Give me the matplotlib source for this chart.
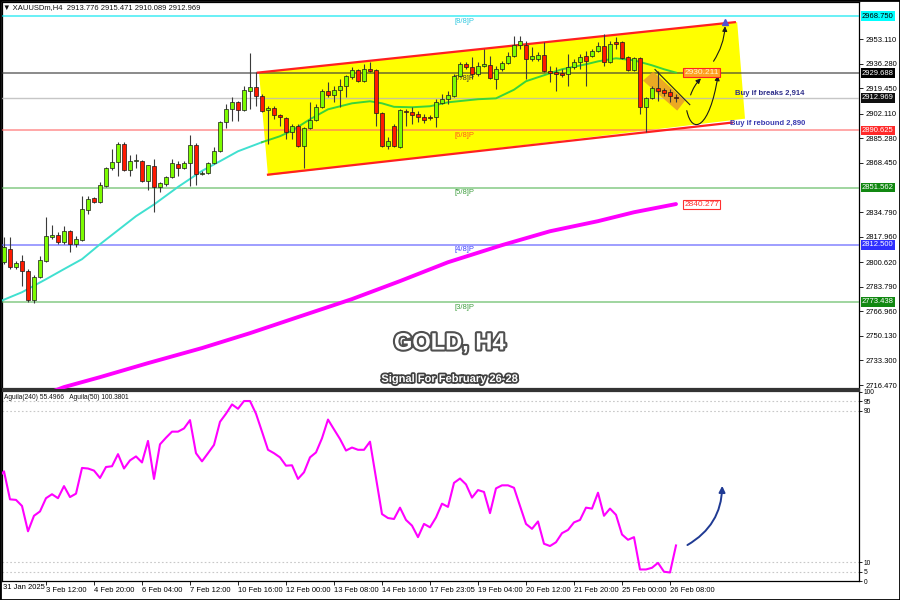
import matplotlib
matplotlib.use('Agg')
import matplotlib.pyplot as plt
import matplotlib.patheffects as pe
import matplotlib.transforms as mtransforms
from matplotlib.patches import Polygon, FancyArrowPatch, Rectangle
from matplotlib.path import Path
import numpy as np

plt.rcParams['font.family'] = ['Liberation Sans', 'DejaVu Sans']

# ---------------- data (H4 candles, bar index 0..112) ----------------
opens = [2800.5, 2809.4, 2797.1, 2801.2, 2794.4, 2774.6, 2790.3, 2801.2, 2817.6, 2819.0,
         2814.2, 2821.7, 2812.8, 2815.6, 2836.1, 2844.3, 2841.6, 2852.5, 2864.8, 2868.9,
         2881.2, 2863.4, 2869.6, 2869.6, 2855.9, 2866.2, 2851.8, 2853.9, 2858.6, 2867.5,
         2864.8, 2868.2, 2880.5, 2860.7, 2861.4, 2868.2, 2876.4, 2896.2, 2905.1, 2909.9,
         2904.4, 2917.4, 2920.2, 2914.0, 2904.4, 2905.8, 2901.0, 2899.0, 2889.4, 2893.5,
         2879.8, 2892.1, 2897.6, 2906.5, 2917.4, 2914.7, 2918.1, 2920.8, 2927.0, 2931.8,
         2924.3, 2932.5, 2931.8, 2902.4, 2879.8, 2893.5, 2879.1, 2903.7, 2903.1, 2901.7,
         2899.6, 2899.6, 2899.6, 2909.2, 2912.0, 2914.0, 2927.7, 2935.9, 2933.8, 2929.0,
         2934.5, 2935.2, 2925.6, 2932.5, 2936.6, 2941.3, 2948.9, 2948.9, 2939.3, 2939.3,
         2942.0, 2931.1, 2930.4, 2929.7, 2929.0, 2933.8, 2937.2, 2941.3, 2941.3, 2944.8,
         2948.2, 2937.2, 2950.9, 2950.9, 2940.7, 2931.8, 2940.0, 2906.5, 2912.6, 2919.5,
         2918.1, 2916.7, 2913.776]
highs = [2817.6, 2817.6, 2801.2, 2805.3, 2795.8, 2791.7, 2804.6, 2831.3, 2825.8, 2821.0,
         2825.2, 2822.4, 2818.3, 2845.7, 2845.7, 2845.0, 2855.2, 2865.5, 2877.8, 2882.6,
         2882.6, 2873.7, 2874.4, 2870.3, 2866.8, 2870.9, 2855.2, 2859.3, 2870.9, 2869.6,
         2869.6, 2887.3, 2881.9, 2862.7, 2868.9, 2879.1, 2896.9, 2908.5, 2913.3, 2910.6,
         2920.8, 2943.4, 2930.4, 2915.4, 2907.2, 2907.2, 2901.7, 2899.6, 2894.9, 2894.9,
         2892.8, 2909.9, 2908.5, 2918.8, 2923.6, 2920.8, 2925.6, 2928.4, 2933.8, 2932.5,
         2935.9, 2937.2, 2932.5, 2903.1, 2886.0, 2894.9, 2905.1, 2905.1, 2906.5, 2903.7,
         2901.7, 2901.0, 2912.0, 2915.4, 2917.4, 2929.0, 2937.2, 2937.2, 2940.7, 2937.2,
         2946.1, 2941.3, 2934.5, 2937.9, 2944.1, 2955.0, 2955.0, 2951.6, 2947.5, 2944.1,
         2950.9, 2934.5, 2933.8, 2932.5, 2942.7, 2939.3, 2942.7, 2944.8, 2946.1, 2950.9,
         2956.4, 2951.6, 2954.3, 2951.6, 2941.3, 2940.7, 2940.7, 2913.3, 2920.8, 2931.1,
         2919.5, 2918.8, 2915.471]
lows = [2799.2, 2795.8, 2795.8, 2784.1, 2773.2, 2772.5, 2789.6, 2800.5, 2816.3, 2812.8,
        2812.8, 2807.4, 2810.8, 2814.9, 2833.4, 2840.9, 2840.9, 2851.8, 2863.4, 2859.3,
        2862.7, 2859.3, 2864.8, 2855.2, 2849.8, 2834.7, 2848.4, 2852.5, 2858.0, 2859.3,
        2864.1, 2852.5, 2853.2, 2860.0, 2860.7, 2867.5, 2875.7, 2892.1, 2896.9, 2896.9,
        2903.7, 2905.1, 2907.2, 2903.1, 2881.2, 2898.3, 2893.5, 2884.6, 2884.6, 2879.1,
        2864.8, 2891.4, 2896.9, 2905.8, 2913.3, 2909.9, 2906.5, 2913.3, 2925.6, 2923.6,
        2923.6, 2930.4, 2893.5, 2879.1, 2877.8, 2879.1, 2878.5, 2893.5, 2894.9, 2896.2,
        2895.5, 2897.6, 2892.8, 2908.5, 2908.5, 2913.3, 2927.0, 2932.5, 2925.6, 2927.7,
        2933.8, 2925.6, 2918.8, 2931.1, 2935.9, 2940.7, 2946.1, 2925.6, 2937.9, 2937.9,
        2930.4, 2923.6, 2917.4, 2927.0, 2920.8, 2932.5, 2932.5, 2920.8, 2940.7, 2944.1,
        2934.5, 2936.6, 2946.1, 2939.3, 2931.1, 2931.1, 2901.7, 2889.4, 2912.0, 2910.6,
        2914.0, 2909.9, 2910.089]
closes = [2810.8, 2797.1, 2799.9, 2794.4, 2774.6, 2790.3, 2801.9, 2818.3, 2819.0, 2814.2,
          2821.7, 2812.8, 2816.3, 2836.8, 2843.6, 2841.6, 2853.2, 2864.8, 2868.9, 2881.2,
          2863.4, 2869.6, 2870.3, 2855.9, 2866.8, 2851.8, 2854.5, 2858.6, 2868.2, 2864.8,
          2868.2, 2880.5, 2860.7, 2861.4, 2868.2, 2876.4, 2896.2, 2905.1, 2909.9, 2904.4,
          2918.1, 2920.2, 2914.0, 2903.7, 2905.8, 2901.0, 2899.6, 2889.4, 2893.5, 2879.8,
          2892.1, 2897.6, 2906.5, 2917.4, 2914.7, 2918.1, 2920.8, 2927.7, 2931.8, 2924.3,
          2932.5, 2931.1, 2902.4, 2879.8, 2883.2, 2879.8, 2904.4, 2903.1, 2901.0, 2899.6,
          2897.6, 2899.0, 2909.9, 2912.0, 2914.7, 2927.7, 2935.9, 2933.8, 2929.0, 2934.5,
          2935.9, 2926.3, 2932.5, 2936.6, 2941.3, 2948.9, 2951.6, 2939.3, 2941.3, 2942.0,
          2931.1, 2929.7, 2929.0, 2928.4, 2933.8, 2937.2, 2940.7, 2937.9, 2944.8, 2948.2,
          2937.2, 2949.5, 2949.5, 2940.0, 2931.8, 2940.0, 2906.5, 2912.6, 2919.5, 2917.4,
          2916.1, 2914.0, 2912.969]

# moving averages (bar index, value)
ma_fast_idx = [-1, 3, 7, 10, 13, 16, 19, 22, 25, 29, 33, 36, 39, 43, 46, 48, 51, 54, 58, 61,
               63, 65, 68, 71, 74, 79, 82, 85, 87, 90, 93, 97, 99, 102, 105, 108, 110, 112]
ma_fast = [2773.2, 2780.0, 2788.9, 2795.8, 2802.6, 2812.8, 2822.4, 2832.0, 2840.0, 2852.0,
           2863.0, 2869.6, 2876.4, 2882.6, 2886.7, 2890.5, 2898.3, 2905.1, 2909.2, 2910.6,
           2909.2, 2906.8, 2906.5, 2907.2, 2909.9, 2912.0, 2912.6, 2918.5, 2924.3, 2928.4,
           2932.5, 2935.9, 2937.9, 2940.0, 2938.6, 2935.2, 2932.5, 2930.2]
ma_slow_idx = [8, 10, 16, 24, 33, 41, 49, 58, 66, 74, 83, 91, 99, 105, 112]
ma_slow = [2712.0, 2715.1, 2721.9, 2731.5, 2741.8, 2752.0, 2763.0, 2775.3, 2787.6, 2800.5,
           2812.2, 2821.7, 2828.6, 2834.7, 2840.3]

# Murrey math levels
mm_levels = [2968.750, 2929.688, 2890.625, 2851.562, 2812.500, 2773.438]
mm_names = ['[8/8]P', '[7/8]P', '[6/8]P', '[5/8]P', '[4/8]P', '[3/8]P']
bid_price = 2912.969
ma_fast_label = 2930.211
ma_slow_label = 2840.277

# oscillator Aguila(240), bar index -1..112
osc_vals = [54.5, 58.0, 43.2, 42.9, 39.7, 26.3, 34.5, 36.8, 43.8, 45.9, 43.8,
            50.2, 44.4, 46.2, 59.8, 59.5, 58.4, 54.5, 60.3, 60.7, 67.1,
            59.5, 63.8, 65.9, 62.7, 74.1, 54.0, 72.3, 75.8, 79.0, 79.0,
            80.7, 85.1, 67.6, 63.3, 67.6, 72.0, 84.2, 88.5, 93.4, 91.1,
            95.2, 95.2, 88.5, 79.0, 69.4, 67.6, 65.4, 61.0, 61.2, 54.0,
            57.5, 65.4, 68.0, 75.5, 85.4, 80.2, 75.1, 69.0, 70.6, 69.4,
            69.4, 73.7, 54.5, 35.4, 33.3, 32.8, 38.8, 32.3, 29.3, 23.2,
            30.2, 28.4, 33.6, 40.9, 39.2, 51.9, 54.2, 51.1, 44.1, 48.1,
            47.1, 35.9, 49.0, 50.6, 50.6, 49.3, 39.7, 30.2, 27.6, 31.5,
            19.7, 18.5, 20.5, 25.3, 27.0, 31.0, 32.3, 38.8, 38.3, 46.7,
            34.5, 38.3, 35.0, 24.6, 21.8, 23.2, 6.1, 6.1, 7.0, 9.6,
            4.9, 4.5, 18.8]
osc_levels = [95, 90, 10, 5]

price_ticks = [2953.110, 2936.280, 2919.450, 2902.110, 2885.280, 2868.450, 2834.790,
               2817.960, 2800.620, 2783.790, 2766.960, 2750.130, 2733.300, 2716.470]
time_labels = ['31 Jan 2025', '3 Feb 12:00', '4 Feb 20:00', '6 Feb 04:00', '7 Feb 12:00',
               '10 Feb 16:00', '12 Feb 00:00', '13 Feb 08:00', '14 Feb 16:00', '17 Feb 23:05',
               '19 Feb 04:00', '20 Feb 12:00', '21 Feb 20:00', '25 Feb 00:00', '26 Feb 08:00']
time_label_idx = [-1, 7, 15, 23, 31, 39, 47, 55, 63, 71, 79, 87, 95, 103, 111]

# drawing objects (bar index, price)
channel_top = [(42.3, 2930.2), (121.8, 2964.7)]
channel_bot = [(44.0, 2860.4), (121.3, 2896.0)]
channel_fill = [(42.5, 2930.2), (122.2, 2964.7), (123.5, 2898.7), (44.0, 2859.7)]
flag_box = [(108.2, 2930.9), (113.5, 2911.0), (112.2, 2904.2), (106.5, 2924.7)]
flag_line = [(108.5, 2932.3), (114.3, 2908.3)]

# ---------------- figure ----------------
fig = plt.figure(figsize=(9, 6), dpi=100)
fig.patch.set_facecolor('white')
ax = fig.add_axes([2 / 900, 1 - 389 / 600, 857 / 900, 387 / 600])
axi = fig.add_axes([2 / 900, 19 / 600, 857 / 900, 190 / 600])

XMIN, XMAX = -0.333, 142.5
ax.set_xlim(XMIN, XMAX)
ax.set_ylim(2713.8, 2978.5)

# channel fill
ax.add_patch(Polygon(channel_fill, closed=True, facecolor='#ffff00', edgecolor='none', zorder=1))

# horizontal levels
mm_colors = ['#00e5f0', '#3a3a3a', '#ff6a6a', '#5cb85c', '#5a5aff', '#5cb85c']
mm_text = ['#30c8e0', '#3a3a3a', '#ff5a20', '#3f9f3f', '#4040ff', '#3f9f3f']
for lv, nm, lc, tc in zip(mm_levels, mm_names, mm_colors, mm_text):
    ax.axhline(lv, color=lc, lw=1.1, alpha=0.75, zorder=3)
    ax.text(76.8, lv - 1.2, nm, color=tc, fontsize=5.5, ha='center', va='top', zorder=4)
ax.axhline(bid_price, color='#b8b8b8', lw=1.0, alpha=0.8, zorder=3)

# slow MA
ax.plot(ma_slow_idx, ma_slow, color='#ff00ff', lw=2.8, solid_capstyle='round', zorder=4)
# fast MA (cyan outside channel, green inside)
split = ma_fast_idx.index(43)
ax.plot(ma_fast_idx[:split + 1], ma_fast[:split + 1], color='#40e0d0', lw=1.4, zorder=4)
ax.plot(ma_fast_idx[split:], ma_fast[split:], color='#3ad43a', lw=1.4, zorder=4)

# channel lines
ax.plot(*zip(*channel_top), color='#ff2020', lw=1.6, zorder=4)
ax.plot(*zip(*channel_bot), color='#ff2020', lw=1.6, zorder=4)

# flag
ax.add_patch(Polygon(flag_box, closed=True, facecolor='#e89a2a', edgecolor='none', alpha=0.85, zorder=4))
ax.plot(*zip(*flag_line), color='#222222', lw=0.8, zorder=7)

# candles
idx = np.arange(len(opens))
o = np.array(opens); h = np.array(highs); l = np.array(lows); c = np.array(closes)
up = c >= o
ax.vlines(idx, l, h, color='#3a3a3a', lw=0.8, zorder=5)
ax.bar(idx, np.abs(c - o), bottom=np.minimum(o, c), width=0.72,
       color=np.where(up, '#7cfc00', '#ff1a00'), edgecolor='#1a1a1a', linewidth=0.5, zorder=6)

# arrows
arrow_kw = dict(arrowstyle='-|>', mutation_scale=7, color='#1a1a1a', lw=0.8, zorder=8)
ax.add_patch(FancyArrowPatch((114.3, 2913.1), (116.5, 2927.5), connectionstyle='arc3,rad=-0.15', **arrow_kw))
ax.add_patch(FancyArrowPatch((118.0, 2936.4), (120.2, 2963.8), connectionstyle='arc3,rad=0.15', **arrow_kw))
u_path = Path([(113.8, 2904.2), (114.7, 2887.0), (117.6, 2892.0), (119.0, 2928.2)],
              [Path.MOVETO, Path.CURVE4, Path.CURVE4, Path.CURVE4])
ax.add_patch(FancyArrowPatch(path=u_path, **arrow_kw))
ax.plot([120.2], [2964.6], marker='^', color='#5050d0', ms=4, zorder=9)

# annotations
ax.text(121.8, 2916.0, 'Buy if breaks 2,914', fontsize=5.5, fontweight='bold', color='#2d2d8a',
        va='center', ha='left', zorder=9)
ax.text(121.0, 2895.3, 'Buy if rebound 2,890', fontsize=5.5, fontweight='bold', color='#3a3ab0',
        va='center', ha='left', zorder=9)
ax.text(113.4, ma_fast_label, '%.3f' % ma_fast_label, fontsize=6, color='#fff4d0', va='center', ha='left',
        zorder=9, bbox=dict(boxstyle='square,pad=0.12', facecolor='#ffa020', edgecolor='#ff2020', lw=0.8))
ax.text(113.4, ma_slow_label, '%.3f' % ma_slow_label, fontsize=6, color='#ff3030', va='center', ha='left',
        zorder=9, bbox=dict(boxstyle='square,pad=0.12', facecolor='white', edgecolor='#ff3030', lw=0.8))

# right price axis
ax.yaxis.tick_right()
ax.set_yticks(price_ticks)
ax.set_yticklabels(['%.3f' % t for t in price_ticks])
ax.tick_params(axis='y', direction='out', length=3, width=0.6, labelsize=5.5, pad=1.5)
ax.tick_params(axis='x', bottom=False, labelbottom=False)
ytr = ax.get_yaxis_transform()
box_specs = [(mm_levels[0], '#00ffff', 'black'), (mm_levels[1], 'black', 'white'),
             (bid_price, '#101010', 'white'), (mm_levels[2], '#ff2a2a', 'white'),
             (mm_levels[3], '#118811', 'white'), (mm_levels[4], '#2f2fff', 'white'),
             (mm_levels[5], '#118811', 'white')]
for val, fc, tc in box_specs:
    ax.text(1.0035, val, '%.3f' % val, transform=ytr, fontsize=5.5, color=tc, va='center', ha='left',
            clip_on=False, zorder=10,
            bbox=dict(boxstyle='square,pad=0.18', facecolor=fc, edgecolor='none'))
for s in ax.spines.values():
    s.set_color('black'); s.set_linewidth(0.9)
ax.spines['bottom'].set_linewidth(1.6)
ax.spines['bottom'].set_color('#333333')

# titles
fig.text(3 / 900, 1 - 8 / 600, '\u25bc XAUUSDm,H4  2913.776 2915.471 2910.089 2912.969',
         fontsize=5.5, va='center', ha='left', color='#111111')
fig.text(0.5, 1 - 343 / 600, 'GOLD, H4', fontsize=17, fontweight='bold', color='white',
         ha='center', va='center',
         path_effects=[pe.withStroke(linewidth=3, foreground='#505050')])
fig.text(0.5, 1 - 379 / 600, 'Signal For February 26-28', fontsize=8, fontweight='bold', color='white',
         ha='center', va='center',
         path_effects=[pe.withStroke(linewidth=2.5, foreground='#404040')])

# ---------------- oscillator panel ----------------
osc_idx = np.arange(-1, -1 + len(osc_vals))
axi.set_xlim(XMIN, XMAX)
axi.set_ylim(0, 100.5)
for lv in osc_levels:
    axi.axhline(lv, color='#c8c8c8', lw=0.8, ls=(0, (1.5, 2)), zorder=1)
axi.plot(osc_idx, osc_vals, color='#ff00ff', lw=1.5, zorder=3)
axi.add_patch(FancyArrowPatch((113.5, 18.3), (119.7, 51.8), connectionstyle='arc3,rad=0.3',
                              arrowstyle='-|>', mutation_scale=9, color='#1f3a93', lw=1.4, zorder=4))
axi.text(0.002, 0.985, 'Aguila(240) 55.4966   Aguila(50) 100.3801', transform=axi.transAxes,
         fontsize=4.8, va='top', ha='left', color='#111111')
axi.yaxis.tick_right()
axi.set_yticks([0, 5, 10, 90, 95, 100])
axi.set_yticklabels(['0', '5', '10', '90', '95', '100'])
axi.tick_params(axis='y', direction='out', length=2, width=0.6, labelsize=4.8, pad=1.5)
vis = [(p, t) for p, t in zip(time_label_idx, time_labels) if p >= XMIN]
axi.set_xticks([p for p, _ in vis])
axi.set_xticklabels([t for _, t in vis], ha='left')
axi.tick_params(axis='x', direction='out', length=3, width=0.6, labelsize=5.5, pad=1.5)
for p, t in zip(time_label_idx, time_labels):
    if p < XMIN:
        axi.text(0.001, -0.018, t, transform=axi.transAxes, fontsize=5.5, ha='left', va='top',
                 clip_on=False)
for s in axi.spines.values():
    s.set_color('black'); s.set_linewidth(0.9)
axi.spines['top'].set_linewidth(1.6)
axi.spines['top'].set_color('#333333')

fig.add_artist(Rectangle((0, 0), 1, 1, transform=fig.transFigure, fill=False,
                         edgecolor='black', lw=2.0))

fig.savefig('out.png', dpi=100)
